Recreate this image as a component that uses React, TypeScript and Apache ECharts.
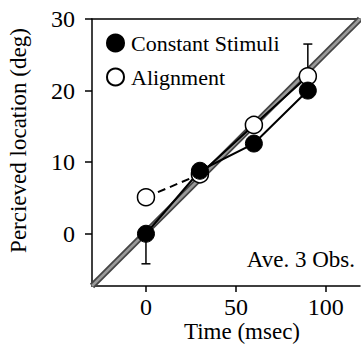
import React, { useEffect, useRef } from "react";
import * as echarts from "echarts";

const times = [0, 30, 60, 90];
const constantStimuli = [0, 8.8, 12.6, 20];
const alignment = [5.1, 8.3, 15.2, 22];
const xTicks = [0, 50, 100];
const yTicks = [0, 10, 20, 30];
const xRange = [-30, 119];
const yRange = [-7.3, 30];
// [x, from, to]
const errorBars = [
  [0, 0, -4.2],
  [90, 22, 26.5],
];

const FONT = "Liberation Serif";

export default function App() {
  const ref = useRef<HTMLDivElement>(null);
  useEffect(() => {
    document.body.style.margin = "0";
    const chart = echarts.init(ref.current!, null, { renderer: "svg" });
    const csPts = times.map((t, i) => [t, constantStimuli[i]]);
    const alPts = times.map((t, i) => [t, alignment[i]]);
    chart.setOption({
      animation: false,
      textStyle: { fontFamily: FONT },
      grid: { left: 92, right: 1, top: 19, bottom: 59, outerBoundsMode: "none" },
      legend: {
        orient: "vertical",
        left: 106,
        top: 32,
        padding: 0,
        itemWidth: 17,
        itemHeight: 17,
        itemGap: 12,
        data: ["Constant Stimuli", "Alignment"],
        textStyle: { fontFamily: FONT, fontSize: 22, color: "#000", padding: [0, 0, 0, 2] },
      },
      xAxis: [
        {
          type: "value",
          min: xRange[0],
          max: xRange[1],
          position: "bottom",
          name: "Time (msec)",
          nameLocation: "middle",
          nameMoveOverlap: false,
          nameGap: 34,
          nameTextStyle: { fontFamily: FONT, fontSize: 23, color: "#000", padding: [0, 0, 0, 32] },
          axisLine: { onZero: false, lineStyle: { color: "#000", width: 1.5 } },
          axisTick: { customValues: xTicks, length: 6, lineStyle: { color: "#000", width: 1.5 } },
          axisLabel: { customValues: xTicks, fontFamily: FONT, fontSize: 24, color: "#000", margin: 9 },
          splitLine: { show: false },
        },
        {
          type: "value",
          min: xRange[0],
          max: xRange[1],
          position: "top",
          axisLine: { show: true, onZero: false, lineStyle: { color: "#000", width: 1.5 } },
          axisTick: { show: false },
          axisLabel: { show: false },
          splitLine: { show: false },
        },
      ],
      yAxis: {
        type: "value",
        min: yRange[0],
        max: yRange[1],
        name: "Percieved location (deg)",
        nameLocation: "middle",
        nameMoveOverlap: false,
        nameGap: 62,
        nameTextStyle: { fontFamily: FONT, fontSize: 23, color: "#000", padding: [0, 0, 0, 24] },
        axisLine: { show: true, onZero: false, lineStyle: { color: "#000", width: 1.5 } },
        axisTick: { show: true, customValues: yTicks, length: 7, lineStyle: { color: "#000", width: 1.5 } },
        axisLabel: { customValues: yTicks, fontFamily: FONT, fontSize: 24, color: "#000", margin: 17 },
        splitLine: { show: false },
      },
      graphic: [
        {
          type: "text",
          right: 6,
          top: 248,
          style: { text: "Ave. 3 Obs.", font: `23px "${FONT}"`, fill: "#000" },
        },
      ],
      series: [
        {
          type: "line",
          data: [
            [xRange[0], yRange[0]],
            [xRange[1], yRange[1]],
          ],
          symbol: "none",
          lineStyle: { color: "#444", width: 6 },
          z: 1,
          silent: true,
        },
        {
          type: "line",
          data: [
            [xRange[0], yRange[0]],
            [xRange[1], yRange[1]],
          ],
          symbol: "none",
          lineStyle: { color: "#999", width: 2.5 },
          z: 1,
          silent: true,
        },
        {
          type: "custom",
          data: errorBars,
          z: 2,
          renderItem: (params: any, api: any) => {
            const x = api.value(0);
            const p0 = api.coord([x, api.value(1)]);
            const p1 = api.coord([x, api.value(2)]);
            const st = { stroke: "#000", lineWidth: 1.5 };
            return {
              type: "group",
              children: [
                { type: "line", shape: { x1: p0[0], y1: p0[1], x2: p1[0], y2: p1[1] }, style: st },
                { type: "line", shape: { x1: p1[0] - 4.5, y1: p1[1], x2: p1[0] + 4.5, y2: p1[1] }, style: st },
              ],
            };
          },
        },
        {
          type: "line",
          data: csPts,
          symbol: "none",
          lineStyle: { color: "#000", width: 2 },
          z: 3,
        },
        {
          type: "line",
          data: alPts.slice(0, 2),
          symbol: "none",
          lineStyle: { color: "#000", width: 2, type: [8, 5] },
          z: 3,
        },
        {
          type: "line",
          data: alPts.slice(1),
          symbol: "none",
          lineStyle: { color: "#000", width: 2 },
          z: 3,
        },
        {
          name: "Alignment",
          type: "scatter",
          data: alPts,
          symbol: "circle",
          symbolSize: 17,
          itemStyle: { color: "#fff", borderColor: "#000", borderWidth: 1.5, opacity: 1 },
          z: 4,
        },
        {
          name: "Constant Stimuli",
          type: "scatter",
          data: csPts,
          symbol: "circle",
          symbolSize: 17,
          itemStyle: { color: "#000", borderColor: "#000", borderWidth: 1, opacity: 1 },
          z: 5,
        },
      ],
    });
    return () => chart.dispose();
  }, []);
  return <div ref={ref} style={{ width: 361, height: 345 }} />;
}
